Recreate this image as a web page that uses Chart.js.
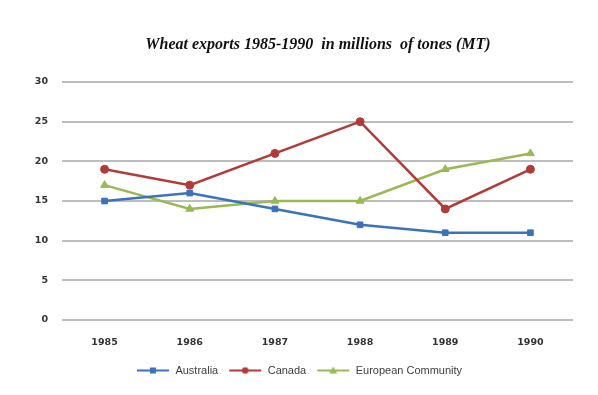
<!DOCTYPE html>
<html>
<head>
<meta charset="utf-8">
<script src="https://cdn.jsdelivr.net/npm/chart.js@4/dist/chart.umd.min.js"></script>
<style>
  html, body { margin: 0; padding: 0; background: #fff; }
  #wrap { position: relative; width: 598px; height: 395px; }
  #title { position: absolute; top: 34px; left: 118px; width: 400px; text-align: center;
    font-family: "Liberation Serif", serif; font-weight: bold; font-style: italic; font-size: 16px;
    color: #111; white-space: pre; line-height: 20px; }
  canvas { position: absolute; left: 0; top: 0; }
</style>
</head>
<body>
<div id="wrap">
  <canvas id="c" width="598" height="395"></canvas>
  <div id="title">Wheat exports 1985-1990  in millions  of tones (MT)</div>
</div>
<script>
const categories = ["1985", "1986", "1987", "1988", "1989", "1990"];
const seriesNames = ["Australia", "Canada", "European Community"];
const australia = [15, 16, 14, 12, 11, 11];
const canada = [19, 17, 21, 25, 14, 19];
const europeanCommunity = [17, 14, 15, 15, 19, 21];
const yTicks = [0, 5, 10, 15, 20, 25, 30];

const colors = ["#3b72b9", "#b03b39", "#98b954"];
const styles = ["rect", "circle", "triangle"];

function legendIcon(color, style) {
  const cv = document.createElement("canvas");
  cv.width = 34; cv.height = 12;
  const g = cv.getContext("2d");
  g.strokeStyle = color; g.lineWidth = 2;
  g.beginPath(); g.moveTo(1, 6); g.lineTo(33, 6); g.stroke();
  g.fillStyle = color;
  if (style === "rect") { g.fillRect(14, 3, 6, 6); }
  else if (style === "circle") { g.beginPath(); g.arc(17, 6, 3.3, 0, Math.PI * 2); g.fill(); }
  else { g.beginPath(); g.moveTo(17, 2); g.lineTo(21, 9); g.lineTo(13, 9); g.closePath(); g.fill(); }
  return cv;
}

const dataSets = [australia, canada, europeanCommunity].map((d, i) => ({
  label: seriesNames[i],
  data: d,
  borderColor: colors[i],
  backgroundColor: colors[i],
  borderWidth: 2.5,
  pointStyle: styles[i],
  pointRadius: i === 2 ? 4.5 : 4,
  pointBorderWidth: 1,
  tension: 0
}));

new Chart(document.getElementById("c"), {
  type: "line",
  data: { labels: categories, datasets: dataSets },
  options: {
    responsive: false,
    animation: false,
    layout: { padding: { left: 25, right: 25, top: 82, bottom: 9 } },
    plugins: {
      title: { display: false },
      tooltip: { enabled: false },
      legend: {
        position: "bottom",
        labels: {
          usePointStyle: true,
          pointStyleWidth: 34,
          boxHeight: 10,
          padding: 10,
          color: "#404040",
          font: { family: "Liberation Sans", size: 11 },
          generateLabels: (chart) => {
            const items = Chart.defaults.plugins.legend.labels.generateLabels(chart);
            items.forEach((it, i) => { it.pointStyle = legendIcon(colors[i], styles[i]); });
            return items;
          }
        }
      }
    },
    scales: {
      x: {
        offset: true,
        grid: { display: false, drawTicks: false, offset: true },
        border: { display: false },
        ticks: { padding: 17, color: "#333", font: { family: "DejaVu Sans", size: 9.5, weight: "bold" } },
        afterFit: (s) => { s.height = 35; }
      },
      y: {
        min: 0, max: 30,
        afterBuildTicks: (s) => { s.ticks = yTicks.map(v => ({ value: v })); },
        grid: { color: "#bdbdbd", lineWidth: 2, drawTicks: false },
        border: { display: false },
        ticks: { padding: 14, color: "#333", font: { family: "DejaVu Sans", size: 9.5, weight: "bold" } },
        afterFit: (s) => { s.width = 37; }
      }
    }
  }
});
</script>
</body>
</html>
